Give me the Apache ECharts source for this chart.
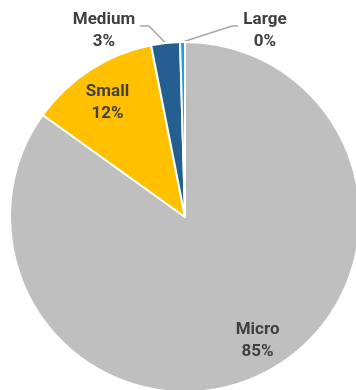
<!DOCTYPE html>
<html>
<head>
<meta charset="utf-8">
<script src="https://cdn.jsdelivr.net/npm/echarts@6/dist/echarts.min.js"></script>
<style>
  html, body { margin: 0; padding: 0; background: #ffffff; }
  #chart { width: 356px; height: 390px; }
</style>
</head>
<body>
<div id="chart"></div>
<script>
// Share of enterprises by size class (%)
const categories = ['Micro', 'Small', 'Medium', 'Large'];
const shares = [84.9, 12.0, 2.65, 0.45];
const sliceColors = ['#BFBFBF', '#FFC000', '#255E91', '#1FA0DC'];

// Pie geometry (px)
const CX = 185, CY = 217, R = 175;

// Label placement: inside labels by angle (deg, clockwise from 12 o'clock) and radius fraction,
// outside labels by a fixed spot plus the leader-line elbow and end.
const labelSpots = {
  Micro:  { angle: 149.6, k: 0.82 },
  Small:  { angle: -34.1, k: 0.79 },
  Medium: { x: 104, y: 31, elbow: [149, 26], end: [140, 26] },
  Large:  { x: 265, y: 31, elbow: [232, 26], end: [238, 26] }
};

const total = shares.reduce((a, b) => a + b, 0);
const midAngles = [];
(function () {
  let acc = 0;
  shares.forEach(v => {
    midAngles.push((acc + v / 2) / total * 360);
    acc += v;
  });
})();

function arcPoint(deg, rad) {
  const a = deg * Math.PI / 180;
  return [CX + rad * Math.sin(a), CY - rad * Math.cos(a)];
}

const outsideNames = ['Medium', 'Large'];

const chart = echarts.init(document.getElementById('chart'), null, { renderer: 'canvas' });

chart.setOption({
  animation: false,
  backgroundColor: '#ffffff',
  series: [{
    type: 'pie',
    center: [CX, CY],
    radius: [0, R],
    startAngle: 90,
    clockwise: true,
    avoidLabelOverlap: false,
    itemStyle: { borderColor: '#ffffff', borderWidth: 2 },
    label: {
      formatter: p => p.name + '\n' + Math.round(p.percent) + '%',
      fontFamily: 'Roboto',
      fontWeight: 'bold',
      fontSize: 17,
      lineHeight: 22,
      color: '#404040',
      align: 'center'
    },
    labelLine: {
      lineStyle: { color: '#A6A6A6', width: 1.5 }
    },
    labelLayout: function (params) {
      const name = categories[params.dataIndex];
      const spot = labelSpots[name];
      if (outsideNames.indexOf(name) >= 0) {
        const anchor = arcPoint(midAngles[params.dataIndex], R);
        return {
          x: spot.x, y: spot.y, align: 'center', verticalAlign: 'middle',
          labelLinePoints: [anchor, spot.elbow, spot.end]
        };
      }
      const p = arcPoint(spot.angle, spot.k * R);
      return { x: p[0], y: p[1], align: 'center', verticalAlign: 'middle' };
    },
    data: categories.map((name, i) => ({
      name: name,
      value: shares[i],
      itemStyle: { color: sliceColors[i] },
      label: { position: outsideNames.indexOf(name) >= 0 ? 'outside' : 'inside' },
      labelLine: { show: outsideNames.indexOf(name) >= 0 }
    }))
  }]
});
</script>
</body>
</html>
